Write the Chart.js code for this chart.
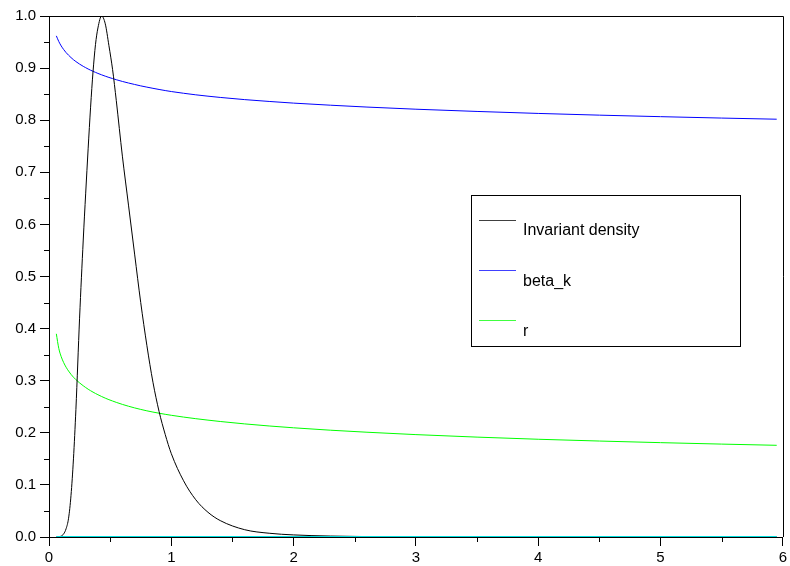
<!DOCTYPE html>
<html>
<head>
<meta charset="utf-8">
<script src="https://cdn.jsdelivr.net/npm/chart.js@4/dist/chart.umd.min.js"></script>
<style>
html,body{margin:0;padding:0;background:#fff;}
#c{display:block;}
</style>
</head>
<body>
<canvas id="c" width="790" height="566"></canvas>
<script>
// ---- data ----
const xs = [0.06,0.08,0.10,0.12,0.14,0.16,0.18,0.20,0.22,0.25,0.28,0.30,0.32,0.34,0.36,0.38,0.40,0.43,0.46,0.49,0.52,0.55,0.60,0.65,0.70,0.75,0.80,0.85,0.90,0.95,1.0,1.1,1.2,1.3,1.4,1.6,1.8,2.0,2.3,2.6,3.0,3.5,4.0,4.5,5.0,5.5,5.95];
const density = [0,0.0003,0.0018,0.006,0.016,0.036,0.08,0.15,0.245,0.42,0.57,0.66,0.745,0.825,0.893,0.945,0.977,1.0,0.985,0.943,0.897,0.838,0.731,0.637,0.543,0.45,0.368,0.297,0.241,0.197,0.16,0.108,0.0715,0.0474,0.0315,0.014,0.0072,0.004,0.0018,0.0008,0.0003,0,0,0,0,0,0];
const betaK = [0.9619,0.9510,0.9425,0.9356,0.9297,0.9247,0.9202,0.9161,0.9125,0.9077,0.9034,0.9008,0.8983,0.8960,0.8938,0.8918,0.8898,0.8871,0.8845,0.8821,0.8799,0.8777,0.8744,0.8714,0.8686,0.8659,0.8635,0.8612,0.8590,0.8569,0.8550,0.8517,0.8487,0.8461,0.8437,0.8395,0.8360,0.8328,0.8288,0.8252,0.8211,0.8168,0.8130,0.8097,0.8068,0.8041,0.8019];
const rVals = [0.390,0.362,0.346,0.3347,0.3258,0.3185,0.3122,0.3067,0.3020,0.2958,0.2903,0.2869,0.2837,0.2808,0.2781,0.2755,0.2731,0.2697,0.2665,0.2636,0.2610,0.2584,0.2545,0.2510,0.2478,0.2449,0.2422,0.2398,0.2376,0.2355,0.2336,0.2302,0.2271,0.2243,0.2217,0.2171,0.2131,0.2096,0.2050,0.2011,0.1965,0.1917,0.1876,0.1842,0.1811,0.1783,0.1760];
const zeroLine = [0,0,0,0,0,0,0,0,0,0,0,0,0,0,0,0,0,0,0,0,0,0,0,0,0,0,0,0,0,0,0,0,0,0,0,0,0,0,0,0,0,0,0,0,0,0,0];
const xTicks = [0,1,2,3,4,5,6];
const yTicks = [0,0.1,0.2,0.3,0.4,0.5,0.6,0.7,0.8,0.9,1.0];
const xMinor = [0.5,1.5,2.5,3.5,4.5,5.5];
const yMinor = [0.05,0.15,0.25,0.35,0.45,0.55,0.65,0.75,0.85,0.95];
const seriesNames = ['Invariant density','beta_k','r'];
const seriesColors = ['#000000','#0000ff','#00ff00'];
const zeroColor = '#00dcdc';

const pts = arr => xs.map((x,i)=>({x:x,y:arr[i]}));
const FONT = "'Liberation Sans', Arial, sans-serif";

const minorTicks = {
  id:'minorTicks',
  afterDraw(chart){
    const ctx = chart.ctx, a = chart.chartArea;
    const sx = chart.scales.x, sy = chart.scales.y;
    ctx.save();
    ctx.strokeStyle = '#000'; ctx.lineWidth = 1;
    ctx.beginPath();
    xMinor.forEach(v=>{const p=Math.round(sx.getPixelForValue(v))+0.5; ctx.moveTo(p,a.bottom); ctx.lineTo(p,a.bottom+5);});
    yMinor.forEach(v=>{const p=Math.round(sy.getPixelForValue(v))+0.5; ctx.moveTo(a.left-5,p); ctx.lineTo(a.left,p);});
    ctx.moveTo(a.left, Math.round(a.top)+0.5); ctx.lineTo(Math.round(a.right)+0.5, Math.round(a.top)+0.5);
    ctx.lineTo(Math.round(a.right)+0.5, a.bottom);
    ctx.stroke();
    ctx.restore();
  }
};

const boxLegend = {
  id:'boxLegend',
  afterDraw(chart){
    const ctx = chart.ctx;
    ctx.save();
    const bx=471.5, by=195.5, bw=269, bh=151;
    ctx.fillStyle='#fff'; ctx.fillRect(bx,by,bw,bh);
    ctx.strokeStyle='#000'; ctx.lineWidth=1; ctx.strokeRect(bx,by,bw,bh);
    seriesNames.forEach((name,i)=>{
      const ly = 220 + i*50.2;
      ctx.strokeStyle=seriesColors[i]; ctx.lineWidth=1; ctx.globalAlpha=0.75;
      ctx.beginPath(); ctx.moveTo(479,Math.round(ly)+0.5); ctx.lineTo(516,Math.round(ly)+0.5); ctx.stroke();
      ctx.globalAlpha=1;
      ctx.fillStyle='#000'; ctx.font='16px '+FONT; ctx.textBaseline='middle'; ctx.textAlign='left';
      ctx.fillText(name, 523, ly+11);
    });
    ctx.restore();
  }
};

new Chart(document.getElementById('c'), {
  type:'line',
  data:{datasets:[
    {label:'zero', data:pts(zeroLine), borderColor:zeroColor, borderWidth:2, order:0},
    {label:seriesNames[0], data:pts(density), borderColor:seriesColors[0], borderWidth:1, order:1},
    {label:seriesNames[1], data:pts(betaK), borderColor:seriesColors[1], borderWidth:1, order:2},
    {label:seriesNames[2], data:pts(rVals), borderColor:seriesColors[2], borderWidth:1, order:3}
  ]},
  options:{
    responsive:false, animation:false, devicePixelRatio:1,
    layout:{padding:{top:16,right:6,left:0,bottom:0}},
    elements:{point:{radius:0}, line:{cubicInterpolationMode:'monotone', fill:false}},
    plugins:{legend:{display:false}, tooltip:{enabled:false}},
    scales:{
      x:{type:'linear', min:0, max:6,
        afterFit:s=>{s.height=29;},
        afterBuildTicks:s=>{s.ticks = xTicks.map(v=>({value:v}));},
        ticks:{color:'#000', font:{family:FONT,size:15}, padding:3, maxRotation:0, autoSkip:false, callback:v=>String(v)},
        grid:{drawOnChartArea:false, tickLength:9, color:'#000', tickColor:'#000'},
        border:{color:'#000', width:1}
      },
      y:{type:'linear', min:0, max:1,
        afterFit:s=>{s.width=49;},
        afterBuildTicks:s=>{s.ticks = yTicks.map(v=>({value:v}));},
        ticks:{color:'#000', font:{family:FONT,size:15}, padding:4, autoSkip:false, callback:v=>Number(v).toFixed(1)},
        grid:{drawOnChartArea:false, tickLength:9, color:'#000', tickColor:'#000'},
        border:{color:'#000', width:1}
      }
    }
  },
  plugins:[minorTicks, boxLegend]
});
</script>
</body>
</html>
